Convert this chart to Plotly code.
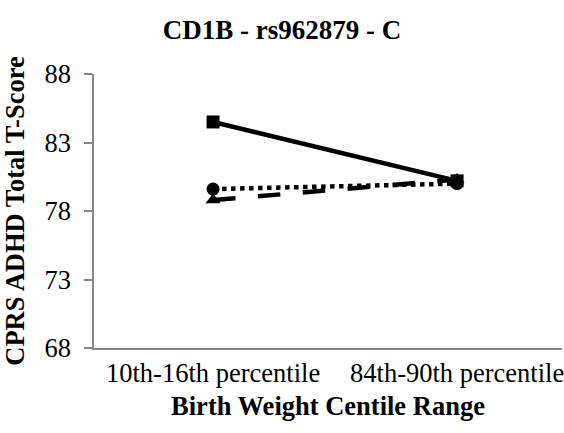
import plotly.graph_objects as go

categories = ["10th-16th percentile", "84th-90th percentile"]
series_square = [84.5, 80.2]
series_circle = [79.6, 80.0]
series_triangle = [78.8, 80.3]
y_ticks = [68, 73, 78, 83, 88]

fig = go.Figure()
fig.add_trace(go.Scatter(x=categories, y=series_circle, mode="lines+markers",
                         line=dict(color="black", width=4.5, dash="dot"),
                         marker=dict(symbol="circle", size=13, color="black"), showlegend=False))
fig.add_trace(go.Scatter(x=categories, y=series_triangle, mode="lines+markers",
                         line=dict(color="black", width=4.5, dash="longdash"),
                         marker=dict(symbol="triangle-up", size=13, color="black"), showlegend=False))
fig.add_trace(go.Scatter(x=categories, y=series_square, mode="lines+markers",
                         line=dict(color="black", width=4.5),
                         marker=dict(symbol="square", size=13, color="black"), showlegend=False))

font_family = "Liberation Serif, Times New Roman, serif"
fs = 26.5
fig.update_layout(
    width=564, height=433,
    margin=dict(l=94, r=2, t=74, b=85),
    paper_bgcolor="white", plot_bgcolor="white",
    font=dict(family=font_family, color="black", size=fs),
    title=dict(text="<b>CD1B - rs962879 - C</b>", x=0.5, xanchor="center",
               y=1 - 30 / 433, yanchor="middle", font=dict(size=27, family=font_family)),
    xaxis=dict(type="category", range=[-0.488, 1.43], showgrid=False, automargin=False,
               showline=True, linecolor="#868686", linewidth=1.5, ticks="",
               tickfont=dict(size=fs), zeroline=False,
               title=dict(text="<b>Birth Weight Centile Range</b>", font=dict(size=fs), standoff=10)),
    yaxis=dict(range=[68, 88], tickvals=y_ticks, showgrid=False, zeroline=False, automargin=False,
               showline=True, linecolor="#868686", linewidth=1.5,
               ticks="outside", ticklen=8, tickcolor="#868686", tickwidth=1.5,
               tickfont=dict(size=fs), ticklabelstandoff=8,
               title=dict(text="<b>CPRS ADHD Total T-Score</b>", font=dict(size=fs), standoff=12)),
)

fig.write_html("out.html", config={"displayModeBar": False},
               post_script="document.body.style.margin='0';document.body.style.overflow='hidden';")
